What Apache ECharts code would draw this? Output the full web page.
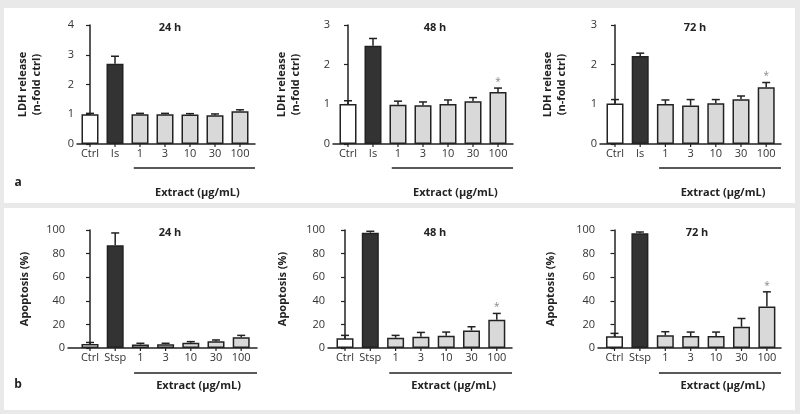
<!DOCTYPE html>
<html><head><meta charset="utf-8">
<script src="https://cdn.jsdelivr.net/npm/echarts@6/dist/echarts.min.js"></script>
<style>html,body{margin:0;padding:0;background:#e9e9e9}#c{width:800px;height:414px}</style>
</head><body><div id="c"></div>
<script>
// ---------------- data ----------------
const categoriesA = ['Ctrl', 'Is', '1', '3', '10', '30', '100'];
const categoriesB = ['Ctrl', 'Stsp', '1', '3', '10', '30', '100'];
const timeLabels = ['24 h', '48 h', '72 h'];
const extractLabel = 'Extract (µg/mL)';
const ldhAxisName = 'LDH release\n(n-fold ctrl)';
const apoAxisName = 'Apoptosis (%)';
const ldhTicksMax = [4, 3, 3];
const apoTicksMax = [100, 100, 100];

const ldh24 = [1.0, 2.7, 1.0, 1.0, 0.99, 0.97, 1.1];
const ldh24Err = [0.03, 0.25, 0.03, 0.03, 0.03, 0.04, 0.05];
const ldh24Sig = [0, 0, 0, 0, 0, 0, 0];
const ldh48 = [1.01, 2.48, 0.99, 0.98, 1.01, 1.08, 1.31];
const ldh48Err = [0.08, 0.18, 0.09, 0.08, 0.1, 0.09, 0.1];
const ldh48Sig = [0, 0, 0, 0, 0, 0, 1];
const ldh72 = [1.02, 2.22, 1.01, 0.97, 1.03, 1.13, 1.43];
const ldh72Err = [0.1, 0.07, 0.1, 0.15, 0.09, 0.08, 0.12];
const ldh72Sig = [0, 0, 0, 0, 0, 0, 1];

const apo24 = [3.4, 87.0, 3.0, 3.2, 4.4, 5.8, 9.2];
const apo24Err = [1.3, 10.5, 1.0, 0.8, 1.0, 1.0, 1.5];
const apo24Sig = [0, 0, 0, 0, 0, 0, 0];
const apo48 = [8.2, 97.7, 8.7, 9.6, 10.4, 14.9, 23.9];
const apo48Err = [2.5, 1.2, 2.0, 3.6, 3.1, 3.1, 5.4];
const apo48Sig = [0, 0, 0, 0, 0, 0, 1];
const apo72 = [9.9, 97.2, 10.7, 10.1, 10.1, 18.0, 35.2];
const apo72Err = [2.5, 1.1, 3.1, 3.4, 3.4, 7.0, 12.4];
const apo72Sig = [0, 0, 0, 0, 0, 0, 1];

// ---------------- layout ----------------
const FONT = '"Open Sans", "Noto Sans", sans-serif';
const fills = ['#ffffff', '#333333', '#d9d9d9', '#d9d9d9', '#d9d9d9', '#d9d9d9', '#d9d9d9'];
const layouts = [
  {axisLeft: 77, right: 255, first: 90, step: 25, top: 25, bottom: 144, nameGap: 33, titleX: 170, titleY: 28, lineOff: 24, labOff: 49},
  {axisLeft: 333, right: 513, first: 348, step: 25, top: 25, bottom: 144, nameGap: 30, titleX: 435, titleY: 28, lineOff: 24, labOff: 49},
  {axisLeft: 600, right: 781, first: 615, step: 25.2, top: 25, bottom: 144, nameGap: 31, titleX: 695, titleY: 28, lineOff: 24, labOff: 49},
  {axisLeft: 68, right: 257, first: 90, step: 25.2, top: 230, bottom: 348, nameGap: 36, titleX: 170, titleY: 233, lineOff: 25, labOff: 38},
  {axisLeft: 328, right: 512, first: 345, step: 25.3, top: 230, bottom: 348, nameGap: 38, titleX: 435, titleY: 233, lineOff: 25, labOff: 38},
  {axisLeft: 598, right: 781, first: 614.5, step: 25.4, top: 230, bottom: 348, nameGap: 40, titleX: 697, titleY: 233, lineOff: 25, labOff: 38}
];
const panels = [
  {cats: categoriesA, vals: ldh24, errs: ldh24Err, sig: ldh24Sig, max: ldhTicksMax[0], interval: 1, name: ldhAxisName, title: timeLabels[0]},
  {cats: categoriesA, vals: ldh48, errs: ldh48Err, sig: ldh48Sig, max: ldhTicksMax[1], interval: 1, name: ldhAxisName, title: timeLabels[1]},
  {cats: categoriesA, vals: ldh72, errs: ldh72Err, sig: ldh72Sig, max: ldhTicksMax[2], interval: 1, name: ldhAxisName, title: timeLabels[2]},
  {cats: categoriesB, vals: apo24, errs: apo24Err, sig: apo24Sig, max: apoTicksMax[0], interval: 20, name: apoAxisName, title: timeLabels[0]},
  {cats: categoriesB, vals: apo48, errs: apo48Err, sig: apo48Sig, max: apoTicksMax[1], interval: 20, name: apoAxisName, title: timeLabels[1]},
  {cats: categoriesB, vals: apo72, errs: apo72Err, sig: apo72Sig, max: apoTicksMax[2], interval: 20, name: apoAxisName, title: timeLabels[2]}
];

const grid = [], xAxis = [], yAxis = [], series = [];
const graphic = [
  {type: 'rect', z: -100, shape: {x: 4, y: 8, width: 791, height: 195}, style: {fill: '#fff'}},
  {type: 'rect', z: -100, shape: {x: 4, y: 208, width: 791, height: 202}, style: {fill: '#fff'}},
  {type: 'text', x: 18, y: 183, style: {text: 'a', font: 'bold 12px ' + FONT, fill: '#222', textAlign: 'center', textVerticalAlign: 'middle'}},
  {type: 'text', x: 18, y: 385, style: {text: 'b', font: 'bold 12px ' + FONT, fill: '#222', textAlign: 'center', textVerticalAlign: 'middle'}}
];

panels.forEach((p, k) => {
  const L = layouts[k];
  const xmin = -(L.first - L.axisLeft) / L.step;
  const xmax = (L.right - L.first) / L.step;
  grid.push({left: L.axisLeft, top: L.top, width: L.right - L.axisLeft, height: L.bottom - L.top, containLabel: false});
  xAxis.push({gridIndex: k, type: 'value', min: xmin, max: xmax,
    axisLine: {show: true, onZero: false, lineStyle: {color: '#222', width: 1.5}},
    axisTick: {show: false}, axisLabel: {show: false}, splitLine: {show: false}});
  yAxis.push({gridIndex: k, type: 'value', min: 0, max: p.max, interval: p.interval,
    name: p.name, nameLocation: 'middle', nameGap: L.nameGap, nameRotate: 90,
    nameTextStyle: {fontFamily: FONT, fontWeight: 'bold', fontSize: 11, color: '#222', lineHeight: 14},
    axisLine: {show: true, lineStyle: {color: '#222', width: 1.5}},
    axisTick: {show: true, length: 4, lineStyle: {color: '#222', width: 1.2}},
    axisLabel: {fontFamily: FONT, fontSize: 11, color: '#333', margin: 3},
    splitLine: {show: false}});
  series.push({type: 'bar', xAxisIndex: k, yAxisIndex: k, barWidth: 17, z: 2,
    data: p.vals.map((v, i) => ({value: [i, v], itemStyle: {color: fills[i], borderColor: '#222', borderWidth: 1.5}})),
    animation: false});
  series.push({type: 'custom', xAxisIndex: k, yAxisIndex: k, clip: false, z: 3, animation: false,
    data: p.vals.map((v, i) => [i, v, p.errs[i], p.sig[i]]),
    renderItem: function (params, api) {
      const i = api.value(0), m = api.value(1), e = api.value(2), s = api.value(3);
      const p0 = api.coord([i, 0]), pm = api.coord([i, m]), pe = api.coord([i, m + e]);
      const ch = [];
      ch.push({type: 'line', shape: {x1: p0[0], y1: p0[1], x2: p0[0], y2: p0[1] + 3}, style: {stroke: '#222', lineWidth: 1.2}});
      ch.push({type: 'text', style: {text: p.cats[i], x: p0[0], y: p0[1] + 4, textAlign: 'center', textVerticalAlign: 'top', font: '11px ' + FONT, fill: '#333'}});
      ch.push({type: 'line', shape: {x1: pm[0], y1: pm[1], x2: pe[0], y2: pe[1]}, style: {stroke: '#222', lineWidth: 1.5}});
      ch.push({type: 'line', shape: {x1: pe[0] - 4, y1: pe[1], x2: pe[0] + 4, y2: pe[1]}, style: {stroke: '#222', lineWidth: 1.5}});
      if (s) ch.push({type: 'text', style: {text: '*', x: pe[0], y: pe[1] - 6, textAlign: 'center', textVerticalAlign: 'middle', font: '10px ' + FONT, fill: '#888'}});
      return {type: 'group', children: ch};
    }});
  // Extract bracket line + label, spanning categories 1..100
  series.push({type: 'custom', xAxisIndex: k, yAxisIndex: k, clip: false, z: 3, animation: false,
    data: [[2 - 0.25, xmax]],
    renderItem: function (params, api) {
      const a = api.coord([api.value(0), 0]), b = api.coord([api.value(1), 0]);
      return {type: 'group', children: [
        {type: 'line', shape: {x1: a[0], y1: a[1] + L.lineOff, x2: b[0], y2: b[1] + L.lineOff}, style: {stroke: '#222', lineWidth: 1.5}},
        {type: 'text', style: {text: extractLabel, x: (a[0] + b[0]) / 2 + 3, y: a[1] + L.labOff, textAlign: 'center', textVerticalAlign: 'middle', font: 'bold 11px ' + FONT, fill: '#222'}}
      ]};
    }});
  graphic.push({type: 'text', x: L.titleX, y: L.titleY, style: {text: p.title, font: 'bold 11px ' + FONT, fill: '#222', textAlign: 'center', textVerticalAlign: 'middle'}});
});

const chart = echarts.init(document.getElementById('c'), null, {renderer: 'canvas'});
chart.setOption({backgroundColor: 'transparent', animation: false, grid, xAxis, yAxis, series, graphic});
</script></body></html>
